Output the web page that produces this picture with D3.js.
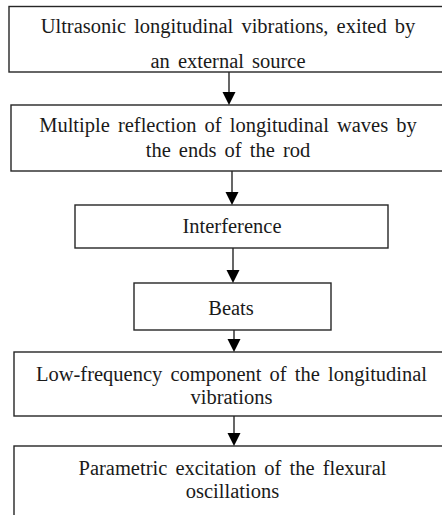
<!DOCTYPE html>
<html>
<head>
<meta charset="utf-8">
<script src="https://cdn.jsdelivr.net/npm/d3@7"></script>
<style>
  body { margin: 0; background: #fff; }
  svg { display: block; }
</style>
</head>
<body>
<div id="viz"></div>
<script>
// flowchart steps, one array of text lines per box
const steps = [
    ['Ultrasonic longitudinal vibrations, exited by', 'an external source'],
    ['Multiple reflection of longitudinal waves by', 'the ends of the rod'],
    ['Interference'],
    ['Beats'],
    ['Low-frequency component of the longitudinal', 'vibrations'],
    ['Parametric excitation of the flexural', 'oscillations']
];

// box geometry (layout only)
const boxes = [
    {x0: 9,   x1: 448, y0: 6.5, y1: 72,  cx: 228,   base: 33,  lh: 35},
    {x0: 11,  x1: 455, y0: 105, y1: 171, cx: 228,   base: 132, lh: 25},
    {x0: 75,  x1: 388, y0: 205, y1: 248, cx: 232,   base: 233, lh: 25},
    {x0: 134, x1: 331, y0: 283, y1: 330, cx: 231,   base: 315, lh: 25},
    {x0: 14,  x1: 454, y0: 352, y1: 416, cx: 231.5, base: 381, lh: 23},
    {x0: 14,  x1: 454, y0: 446, y1: 540, cx: 232.5, base: 475, lh: 23}
];
const arrowX = [229, 232, 233, 234, 234];

const width = 442, height = 515;

const svg = d3.select('#viz')
    .append('svg')
    .attr('width', width)
    .attr('height', height);

const color = '#262626';

svg.selectAll('rect.box')
    .data(boxes)
    .enter().append('rect')
    .attr('class', 'box')
    .attr('x', d => d.x0)
    .attr('y', d => d.y0)
    .attr('width', d => d.x1 - d.x0)
    .attr('height', d => d.y1 - d.y0)
    .attr('fill', 'none')
    .attr('stroke', color)
    .attr('stroke-width', 1.4);

const labels = svg.selectAll('text.step')
    .data(steps)
    .enter().append('text')
    .attr('class', 'step')
    .attr('text-anchor', 'middle')
    .style('font-family', "'Liberation Serif'")
    .style('font-size', '20.5px')
    .style('word-spacing', '3px')
    .attr('fill', '#1a1a1a');

labels.selectAll('tspan')
    .data((d, i) => d.map((t, j) => ({t: t, b: boxes[i], j: j})))
    .enter().append('tspan')
    .attr('x', d => d.b.cx)
    .attr('y', d => d.b.base + d.j * d.b.lh)
    .text(d => d.t);

// arrows between consecutive boxes
const links = d3.pairs(boxes).map((p, i) => ({x: arrowX[i], y0: p[0].y1, y1: p[1].y0}));

svg.selectAll('line.link')
    .data(links)
    .enter().append('line')
    .attr('class', 'link')
    .attr('x1', d => d.x)
    .attr('x2', d => d.x)
    .attr('y1', d => d.y0)
    .attr('y2', d => d.y1 - 10)
    .attr('stroke', color)
    .attr('stroke-width', 1.4);

svg.selectAll('path.head')
    .data(links)
    .enter().append('path')
    .attr('class', 'head')
    .attr('d', d => `M${d.x - 6.5},${d.y1 - 13} L${d.x + 6.5},${d.y1 - 13} L${d.x},${d.y1} Z`)
    .attr('fill', '#000');
</script>
</body>
</html>
